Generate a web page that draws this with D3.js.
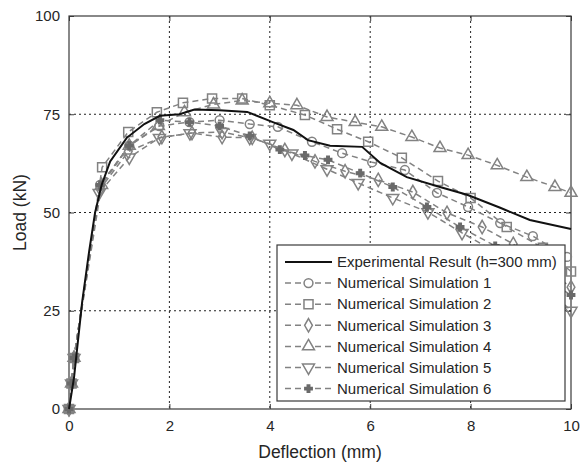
<!DOCTYPE html>
<html>
<head>
<meta charset="utf-8">
<script src="https://cdn.jsdelivr.net/npm/d3@7"></script>
<style>
  html, body { margin: 0; padding: 0; background: #fff; }
  svg { display: block; font-family: "Liberation Sans", Arial, sans-serif; }
</style>
</head>
<body>
<svg id="chart" width="581" height="464"></svg>
<script>
// Load–deflection data (deflection in mm, load in kN)
const expX = [0, 0.1, 0.26, 0.4, 0.52, 0.65, 0.82, 1.15, 1.5, 1.81, 2.2, 2.5, 3.0, 3.55, 4.06, 4.47, 4.76, 5.2, 5.84, 6.2, 6.73, 7.39, 7.93, 8.59, 9.18, 10];
const expY = [0, 8, 27, 40, 50, 57, 63, 69, 72.5, 74.6, 75, 76.2, 76, 75.6, 73, 71, 68.4, 67, 66.7, 62.6, 59, 56.5, 54.5, 51.2, 48.1, 45.8];

const sim1X = [0, 0.05, 0.1, 0.62, 1.2, 1.8, 2.4, 3.0, 3.6, 4.16, 4.84, 5.44, 6.04, 6.69, 7.33, 7.95, 8.59, 9.24, 9.92];
const sim1Y = [0, 6.5, 13, 57, 67, 72, 73, 73.5, 72.5, 71.8, 68, 65.1, 62.8, 60.8, 55, 51.4, 47.3, 44, 38.7];

const sim2X = [0, 0.05, 0.1, 0.66, 1.18, 1.75, 2.27, 2.85, 3.45, 4.0, 4.7, 5.34, 5.96, 6.63, 7.35, 8.0, 8.72, 9.44, 10];
const sim2Y = [0, 6.5, 13, 61.5, 70.5, 75.5, 77.9, 79, 79, 77.3, 74.8, 71.2, 68, 63.9, 58, 53.7, 46.3, 41, 35];

const sim3X = [0, 0.05, 0.1, 0.62, 1.18, 1.85, 2.45, 3.05, 3.65, 4.3, 4.9, 5.5, 6.16, 6.85, 7.53, 8.23, 8.85, 9.45, 10];
const sim3Y = [0, 6.5, 13, 56, 65.5, 69.2, 70.2, 69.2, 69, 65.9, 63, 60.5, 58.3, 55.2, 49.9, 46.3, 42, 36, 31];

const sim4X = [0, 0.05, 0.1, 0.65, 1.2, 1.78, 2.3, 2.88, 3.45, 4.0, 4.54, 5.14, 5.7, 6.23, 6.83, 7.39, 7.95, 8.53, 9.12, 9.68, 10];
const sim4Y = [0, 6.5, 13, 57, 67, 72, 75.5, 77.5, 78.5, 77.8, 77.3, 74.3, 73, 71.8, 69.2, 66.4, 64.6, 62, 59, 56.5, 55];

const sim5X = [0, 0.05, 0.1, 0.6, 1.2, 1.8, 2.41, 3.05, 3.6, 4.0, 4.44, 5.14, 5.76, 6.45, 7.15, 7.83, 8.49, 9.12, 9.75, 10];
const sim5Y = [0, 6.5, 13, 55, 64, 69, 70.2, 70.5, 69, 67.5, 65, 61, 57.5, 53.7, 50.1, 44.8, 40, 34, 28, 25];

const sim6X = [0, 0.05, 0.1, 0.62, 1.2, 1.81, 2.4, 3.0, 3.6, 4.2, 4.7, 5.16, 5.8, 6.45, 7.13, 7.79, 8.49, 9.12, 9.75, 10];
const sim6Y = [0, 6.5, 13, 57, 67, 73.5, 73, 72, 69.5, 66, 64.5, 63.4, 60, 56.5, 51.4, 46.3, 41.5, 36, 31, 29];

const xTicks = [0, 2, 4, 6, 8, 10];
const yTicks = [0, 25, 50, 75, 100];
const expName = "Experimental Result (h=300 mm)";
const simNames = ["Numerical Simulation 1", "Numerical Simulation 2", "Numerical Simulation 3",
                  "Numerical Simulation 4", "Numerical Simulation 5", "Numerical Simulation 6"];

const zip = (xs, ys) => xs.map((x, i) => ({ x, y: ys[i] }));
const sims = [
  { name: simNames[0], pts: zip(sim1X, sim1Y), type: d3.symbolCircle, size: 62, rot: 0, filled: false },
  { name: simNames[1], pts: zip(sim2X, sim2Y), type: d3.symbolSquare, size: 82, rot: 0, filled: false },
  { name: simNames[2], pts: zip(sim3X, sim3Y), type: d3.symbolDiamond, size: 52, rot: 0, filled: false },
  { name: simNames[3], pts: zip(sim4X, sim4Y), type: d3.symbolTriangle, size: 62, rot: 0, filled: false },
  { name: simNames[4], pts: zip(sim5X, sim5Y), type: d3.symbolTriangle, size: 62, rot: 180, filled: false },
  { name: simNames[5], pts: zip(sim6X, sim6Y), type: d3.symbolCross, size: 30, rot: 0, filled: true }
];

const svg = d3.select("#chart");
const pLeft = 69, pRight = 571, pTop = 16, pBottom = 409;
const x = d3.scaleLinear().domain([0, 10]).range([pLeft, pRight]);
const y = d3.scaleLinear().domain([0, 100]).range([pBottom, pTop]);

const gray = "#828282";
const axisCol = "#3a3a3a";
const textCol = "#262626";

// Grid (dotted)
const grid = svg.append("g");
grid.selectAll("line.gx").data(xTicks.slice(1, -1)).join("line")
  .attr("x1", d => x(d)).attr("x2", d => x(d)).attr("y1", pTop).attr("y2", pBottom)
  .attr("stroke", "#222").attr("stroke-width", 1).attr("stroke-dasharray", "2,3");
grid.selectAll("line.gy").data(yTicks.slice(1, -1)).join("line")
  .attr("x1", pLeft).attr("x2", pRight).attr("y1", d => y(d)).attr("y2", d => y(d))
  .attr("stroke", "#222").attr("stroke-width", 1).attr("stroke-dasharray", "2,3");

// Axes
const xAxis = d3.axisBottom(x).tickValues(xTicks).tickSizeInner(-5).tickSizeOuter(0).tickPadding(11);
const yAxis = d3.axisLeft(y).tickValues(yTicks).tickSizeInner(-5).tickSizeOuter(0).tickPadding(9);
const gx = svg.append("g").attr("transform", `translate(0,${pBottom})`).call(xAxis);
const gy = svg.append("g").attr("transform", `translate(${pLeft},0)`).call(yAxis);
[gx, gy].forEach(g => {
  g.select(".domain").remove();
  g.selectAll(".tick line").attr("stroke", axisCol);
  g.selectAll(".tick text").attr("fill", textCol).style("font-size", "15px")
    .style("font-family", '"Liberation Sans", Arial, sans-serif');
});
// Mirror ticks on the top and right edges
const gxt = svg.append("g").attr("transform", `translate(0,${pTop})`)
  .call(d3.axisTop(x).tickValues(xTicks).tickSizeInner(-5).tickSizeOuter(0).tickFormat(""));
const gyr = svg.append("g").attr("transform", `translate(${pRight},0)`)
  .call(d3.axisRight(y).tickValues(yTicks).tickSizeInner(-5).tickSizeOuter(0).tickFormat(""));
[gxt, gyr].forEach(g => { g.select(".domain").remove(); g.selectAll(".tick line").attr("stroke", axisCol); });

// Frame
svg.append("rect").attr("x", pLeft).attr("y", pTop).attr("width", pRight - pLeft).attr("height", pBottom - pTop)
  .attr("fill", "none").attr("stroke", axisCol).attr("stroke-width", 1.2);

// Axis titles
svg.append("text").attr("x", 320).attr("y", 458).attr("text-anchor", "middle")
  .style("font-size", "17.5px").attr("fill", textCol).text("Deflection (mm)");
svg.append("text").attr("transform", `translate(26,${(pTop + pBottom) / 2}) rotate(-90)`)
  .attr("text-anchor", "middle").style("font-size", "17.5px").attr("fill", textCol).text("Load (kN)");

// Series
const line = d3.line().x(d => x(d.x)).y(d => y(d.y));
const plot = svg.append("g");
sims.forEach(s => {
  plot.append("path").datum(s.pts).attr("d", line)
    .attr("fill", "none").attr("stroke", gray).attr("stroke-width", 1.5).attr("stroke-dasharray", "6,4");
});
sims.forEach(s => {
  const sym = d3.symbol().type(s.type).size(s.size);
  plot.selectAll(null).data(s.pts).join("path")
    .attr("d", sym)
    .attr("transform", d => `translate(${x(d.x)},${y(d.y)}) rotate(${s.rot})`)
    .attr("fill", s.filled ? "#6a6a6a" : "none")
    .attr("stroke", s.filled ? "#6a6a6a" : gray)
    .attr("stroke-width", 1.5);
});
plot.append("path").datum(zip(expX, expY)).attr("d", line)
  .attr("fill", "none").attr("stroke", "#111").attr("stroke-width", 2);

// Legend
const lg = svg.append("g");
const lx = 277, ly = 245, lw = 288, lh = 156;
lg.append("rect").attr("x", lx).attr("y", ly).attr("width", lw).attr("height", lh)
  .attr("fill", "#fff").attr("stroke", axisCol).attr("stroke-width", 1.2);
const rowY = i => 262 + i * 21.1;
lg.append("line").attr("x1", 285).attr("x2", 332).attr("y1", rowY(0)).attr("y2", rowY(0))
  .attr("stroke", "#111").attr("stroke-width", 2);
lg.append("text").attr("x", 337).attr("y", rowY(0)).attr("dy", "0.35em")
  .style("font-size", "15px").attr("fill", textCol).text(expName);
sims.forEach((s, i) => {
  const yy = rowY(i + 1);
  lg.append("line").attr("x1", 285).attr("x2", 332).attr("y1", yy).attr("y2", yy)
    .attr("stroke", gray).attr("stroke-width", 1.5).attr("stroke-dasharray", "6,4");
  lg.append("path").attr("d", d3.symbol().type(s.type).size(s.size)())
    .attr("transform", `translate(308.5,${yy}) rotate(${s.rot})`)
    .attr("fill", s.filled ? "#6a6a6a" : "#fff")
    .attr("stroke", s.filled ? "#6a6a6a" : gray).attr("stroke-width", 1.5);
  lg.append("text").attr("x", 337).attr("y", yy).attr("dy", "0.35em")
    .style("font-size", "15px").attr("fill", textCol).text(s.name);
});
</script>
</body>
</html>
